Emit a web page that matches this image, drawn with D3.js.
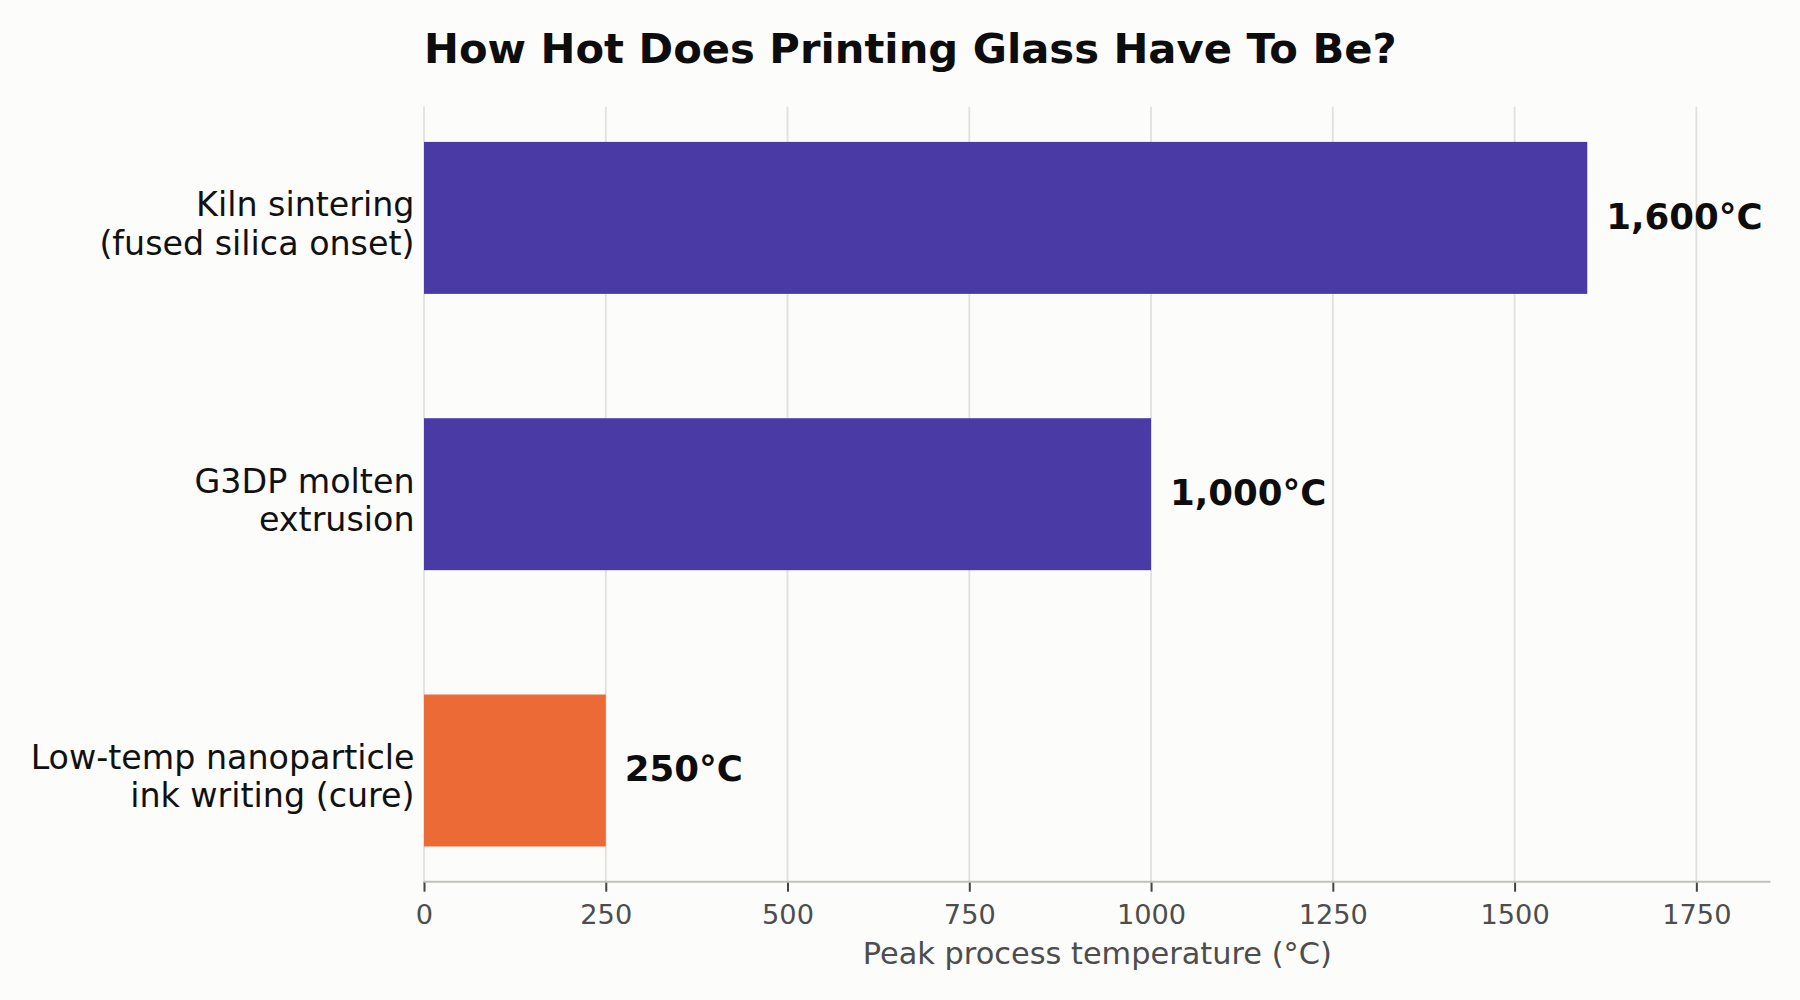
<!DOCTYPE html>
<html>
<head>
<meta charset="utf-8">
<script src="https://cdn.jsdelivr.net/npm/d3@7"></script>
<style>
  html, body { margin: 0; padding: 0; background: #fcfcfa; }
  svg { display: block; }
  text { font-family: "DejaVu Sans", sans-serif; }
</style>
</head>
<body>
<script>
// ---- data ----
const categories = [
  ["Kiln sintering", "(fused silica onset)"],
  ["G3DP molten", "extrusion"],
  ["Low-temp nanoparticle", "ink writing (cure)"]
];
const values = [1600, 1000, 250];
const valueLabels = ["1,600°C", "1,000°C", "250°C"];
const barColors = ["#4a3aa5", "#4a3aa5", "#eb6a36"];
const xTicks = [0, 250, 500, 750, 1000, 1250, 1500, 1750];
const titleText = "How Hot Does Printing Glass Have To Be?";
const xLabelText = "Peak process temperature (°C)";

// ---- layout ----
const W = 1800, H = 1000;
const plot = { left: 424, right: 1770.5, top: 106.7, bottom: 881.7 };

const svg = d3.select("body").append("svg")
  .attr("width", W).attr("height", H);
svg.append("rect").attr("width", W).attr("height", H).attr("fill", "#fcfcfa");

const x = d3.scaleLinear().domain([0, 1852]).range([plot.left, plot.right]);
const y = d3.scaleBand()
  .domain(d3.range(categories.length))
  .range([plot.top, plot.bottom])
  .paddingInner(0.45)
  .paddingOuter(0.1274);

// gridlines
svg.append("g").selectAll("line").data(xTicks).join("line")
  .attr("x1", d => x(d)).attr("x2", d => x(d))
  .attr("y1", plot.top).attr("y2", plot.bottom)
  .attr("stroke", "#e0e0dc").attr("stroke-width", 1.8);

// bars
svg.append("g").selectAll("rect").data(values).join("rect")
  .attr("x", x(0))
  .attr("y", (d, i) => y(i))
  .attr("width", d => x(d) - x(0))
  .attr("height", y.bandwidth())
  .attr("fill", (d, i) => barColors[i]);

// value labels
svg.append("g").selectAll("text").data(values).join("text")
  .attr("x", d => x(d + 26))
  .attr("y", (d, i) => y(i) + y.bandwidth() / 2 + 10.8)
  .attr("font-size", 35.6)
  .attr("font-weight", "bold")
  .attr("fill", "#0d0d0d")
  .text((d, i) => valueLabels[i]);

// category labels
const cat = svg.append("g").selectAll("text").data(categories).join("text")
  .attr("text-anchor", "end")
  .attr("font-size", 33.3)
  .attr("fill", "#111");
cat.each(function(lines, i) {
  const cy = y(i) + y.bandwidth() / 2;
  d3.select(this).selectAll("tspan").data(lines).join("tspan")
    .attr("x", plot.left - 9.5)
    .attr("y", (l, j) => cy - 1.5 + j * 38.4)
    .text(l => l);
});

// x axis
const xAxis = d3.axisBottom(x).tickValues(xTicks).tickFormat(d3.format("d"))
  .tickSize(10).tickPadding(6);
const gx = svg.append("g").attr("transform", `translate(0,${plot.bottom})`).call(xAxis);
gx.select(".domain").remove();
gx.append("line")
  .attr("x1", plot.left).attr("x2", plot.right)
  .attr("y1", 0).attr("y2", 0)
  .attr("stroke", "#c2c2ba").attr("stroke-width", 2);
gx.selectAll(".tick line").attr("stroke", "#444").attr("stroke-width", 2);
gx.selectAll(".tick text")
  .attr("font-family", "DejaVu Sans, sans-serif")
  .attr("font-size", 27.2)
  .attr("fill", "#4d4d4d")
  .attr("dy", null)
  .attr("y", 42.5);

// x label
svg.append("text")
  .attr("x", (plot.left + plot.right) / 2 )
  .attr("y", 963.5)
  .attr("text-anchor", "middle")
  .attr("font-size", 30.4)
  .attr("fill", "#4d4d4d")
  .text(xLabelText);

// title
svg.append("text")
  .attr("x", plot.left)
  .attr("y", 63.3)
  .attr("font-size", 41.7)
  .attr("font-weight", "bold")
  .attr("fill", "#0d0d0d")
  .text(titleText);
</script>
</body>
</html>
